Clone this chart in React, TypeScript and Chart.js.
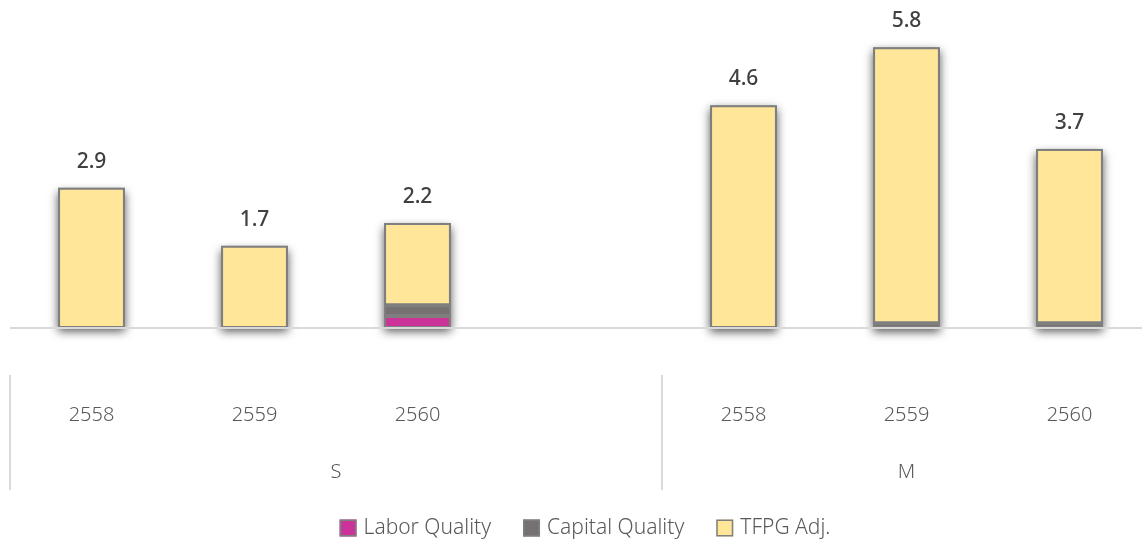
import React, { useEffect, useRef } from "react";
import { Chart, registerables } from "chart.js";

Chart.register(...registerables);

const categories = ["2558", "2559", "2560", "", "2558", "2559", "2560"];
const groupLabels = ["S", "M"];
const groupStartIndex = [0, 4];
const groupEndIndex = [3, 6];

const laborQuality = [null, null, 0.25, null, null, null, null];
const capitalQuality = [null, null, 0.22, null, null, 0.1, 0.1];
const tfpgAdj = [2.9, 1.7, 1.7, null, 4.6, 5.7, 3.6];

const seriesNames = ["Labor Quality", "Capital Quality", "TFPG Adj."];
const seriesColors = ["#CC3399", "#767171", "#FFE699"];
const borderGray = "#7F7F7F";
const FONT = "'Noto Sans', 'Open Sans', sans-serif";

const W = 1160;
const H = 542;

const decorPlugin = {
  id: "decor",
  beforeDatasetsDraw(chart: any) {
    const ctx = chart.ctx;
    const n = categories.length;
    ctx.save();
    ctx.shadowColor = "rgba(0,0,0,0.65)";
    ctx.shadowBlur = 9;
    ctx.shadowOffsetX = 0;
    ctx.shadowOffsetY = 4;
    ctx.fillStyle = borderGray;
    for (let i = 0; i < n; i++) {
      let top = Infinity, bottom = -Infinity, left = 0, width = 0, found = false;
      chart.data.datasets.forEach((ds: any, di: number) => {
        if (ds.data[i] == null) return;
        const el = chart.getDatasetMeta(di).data[i];
        if (!el) return;
        const p = el.getProps(["x", "y", "base", "width"], true);
        top = Math.min(top, p.y, p.base);
        bottom = Math.max(bottom, p.y, p.base);
        left = p.x - p.width / 2;
        width = p.width;
        found = true;
      });
      if (found) ctx.fillRect(left, top, width, bottom - top);
    }
    ctx.restore();
  },
  afterDatasetsDraw(chart: any) {
    const ctx = chart.ctx;
    const area = chart.chartArea;
    const xs = chart.scales.x;
    const ys = chart.scales.y;
    const y0 = ys.getPixelForValue(0);
    ctx.save();
    // zero line
    ctx.strokeStyle = "#D9D9D9";
    ctx.lineWidth = 2;
    ctx.beginPath();
    ctx.moveTo(area.left, y0);
    ctx.lineTo(area.right, y0);
    ctx.stroke();

    // data labels (totals)
    ctx.fillStyle = "#404040";
    ctx.font = `500 21px ${FONT}`;
    ctx.textAlign = "center";
    ctx.textBaseline = "middle";
    for (let i = 0; i < categories.length; i++) {
      const vals = [laborQuality[i], capitalQuality[i], tfpgAdj[i]];
      if (vals.every((v) => v == null)) continue;
      const total = vals.reduce((s: number, v) => s + (v ?? 0), 0);
      const x = xs.getPixelForValue(i);
      const yt = ys.getPixelForValue(total);
      ctx.fillText(total.toFixed(1), x, yt - 26);
    }

    // category labels
    ctx.fillStyle = "#595959";
    ctx.font = `300 20px ${FONT}`;
    for (let i = 0; i < categories.length; i++) {
      if (!categories[i]) continue;
      ctx.fillText(categories[i], xs.getPixelForValue(i), 415);
    }
    // group labels & dividers
    const half = (xs.getPixelForValue(1) - xs.getPixelForValue(0)) / 2;
    ctx.strokeStyle = "#D9D9D9";
    ctx.lineWidth = 2;
    for (let g = 0; g < groupLabels.length; g++) {
      const l = xs.getPixelForValue(groupStartIndex[g]) - half;
      const r = xs.getPixelForValue(groupEndIndex[g]) + half;
      ctx.fillText(groupLabels[g], (l + r) / 2, 472);
      ctx.beginPath();
      ctx.moveTo(l, 375);
      ctx.lineTo(l, 490);
      ctx.stroke();
      ctx.beginPath();
      ctx.moveTo(r, 375);
      ctx.lineTo(r, 490);
      ctx.stroke();
    }

    // legend
    ctx.font = `300 21px ${FONT}`;
    const box = 17;
    const gap = 7;
    const spacing = 32;
    const widths = seriesNames.map((s) => ctx.measureText(s).width);
    const total = widths.reduce((a, b) => a + b, 0) + seriesNames.length * (box + gap) + spacing * (seriesNames.length - 1);
    let lx = 585 - total / 2;
    const ly = 528;
    ctx.textAlign = "left";
    for (let k = 0; k < seriesNames.length; k++) {
      ctx.fillStyle = seriesColors[k];
      ctx.fillRect(lx, ly - box / 2, box, box);
      ctx.strokeStyle = borderGray;
      ctx.lineWidth = 1.5;
      ctx.strokeRect(lx + 0.75, ly - box / 2 + 0.75, box - 1.5, box - 1.5);
      ctx.fillStyle = "#595959";
      ctx.fillText(seriesNames[k], lx + box + gap, ly);
      lx += box + gap + widths[k] + spacing;
    }
    ctx.restore();
  },
};

export default function App() {
  const ref = useRef<HTMLCanvasElement | null>(null);
  useEffect(() => {
    if (!ref.current) return;
    const yMin = -1;
    const yMax = 6;
    const chart = new Chart(ref.current, {
      type: "bar",
      data: {
        labels: categories,
        datasets: [
          { label: seriesNames[0], data: laborQuality, backgroundColor: seriesColors[0] },
          { label: seriesNames[1], data: capitalQuality, backgroundColor: seriesColors[1] },
          { label: seriesNames[2], data: tfpgAdj, backgroundColor: seriesColors[2] },
        ].map((d) => ({
          ...d,
          borderColor: borderGray,
          borderWidth: 2,
          borderSkipped: false,
          barPercentage: 0.41,
          categoryPercentage: 1.0,
        })) as any,
      },
      options: {
        responsive: false,
        animation: false,
        layout: { padding: { left: 10, right: 9, top: 37.6, bottom: 165.6 } },
        scales: {
          x: { stacked: true, display: false },
          y: { stacked: true, display: false, min: yMin, max: yMax },
        },
        plugins: {
          legend: { display: false },
          tooltip: { enabled: false },
        },
      },
      plugins: [decorPlugin],
    });
    return () => chart.destroy();
  }, []);

  return (
    <div
      style={{
        position: "fixed",
        left: 0,
        top: 0,
        width: 1142,
        height: 542,
        overflow: "hidden",
        background: "#fff",
      }}
    >
      <canvas ref={ref} width={W} height={H} style={{ width: W, height: H, display: "block" }} />
    </div>
  );
}
